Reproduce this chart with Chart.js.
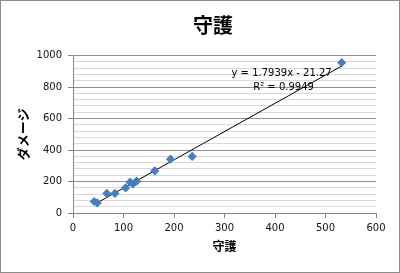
<!DOCTYPE html>
<html>
<head>
<meta charset="utf-8">
<script src="https://cdn.jsdelivr.net/npm/chart.js@4"></script>
<style>
	body { margin: 0; background: #fff; }
	#wrap { width: 398px; height: 271px; border: 1px solid #8c8c8c; }
</style>
</head>
<body>
<div id="wrap"><canvas id="scatter-chart" width="398" height="271"></canvas></div>
<script>
"use strict";

const chartTitle = "守護";
const xTitle = "守護";
const yTitle = "ダメージ";

// 守護 / ダメージ
const defenseValues = [42, 48, 67, 83, 104, 113, 119, 126, 162, 193, 236, 532];
const damageValues = [73, 64, 124, 124, 159, 196, 185, 202, 268, 342, 359, 955];

const slope = 1.7939;
const intercept = -21.27;
const equationText = ["y = 1.7939x - 21.27", "R² = 0.9949"];

const xTicks = [0, 100, 200, 300, 400, 500, 600];
const yTicks = [0, 200, 400, 600, 800, 1000];

function buildPoints() {
	const points = [];
	for (let i = 0; i < defenseValues.length; i++) {
		points.push({ x: defenseValues[i], y: damageValues[i] });
	}
	return points;
}

function buildTrend() {
	const minX = Math.min(...defenseValues);
	const maxX = Math.max(...defenseValues);
	return [
		{ x: minX, y: slope * minX + intercept },
		{ x: maxX, y: slope * maxX + intercept }
	];
}

// chart title sits a little right of the canvas centre, like the original
const titleAndEquation = {
	id: 'titleAndEquation',
	afterDatasetsDraw(chart) {
		const ctx = chart.ctx;
		const xs = chart.scales.x;
		const ys = chart.scales.y;
		ctx.save();
		ctx.fillStyle = '#000';
		ctx.textAlign = 'center';
		ctx.textBaseline = 'middle';
		ctx.font = 'bold 20px "Noto Sans CJK JP"';
		ctx.fillText(chartTitle, 212, 24);

		const cx = xs.getPixelForValue(413);
		const cy = ys.getPixelForValue(886);
		ctx.font = '10px "DejaVu Sans"';
		ctx.fillText(equationText[0], cx, cy);
		ctx.fillText(equationText[1], cx + 2, cy + 14);
		ctx.restore();
	}
};

function displayScatter() {
	const ctx = document.querySelector("#scatter-chart").getContext('2d');
	new Chart(ctx, {
		type: 'scatter',
		data: {
			datasets: [{
				label: 'ダメージ',
				data: buildPoints(),
				pointStyle: 'rectRot',
				pointRadius: 4.6,
				pointHoverRadius: 4.6,
				backgroundColor: '#4a7ebb',
				borderColor: '#4a7ebb',
				borderWidth: 0
			}, {
				type: 'line',
				label: 'trend',
				data: buildTrend(),
				borderColor: '#000',
				borderWidth: 1,
				pointRadius: 0,
				fill: false
			}]
		},
		options: {
			responsive: false,
			animation: false,
			devicePixelRatio: 1,
			layout: { padding: { left: 0, right: 23, top: 54.5, bottom: 0 } },
			plugins: {
				legend: { display: false },
				tooltip: { enabled: false },
				title: { display: false }
			},
			scales: {
				x: {
					type: 'linear',
					min: 0,
					max: 600,
					afterBuildTicks: (scale) => { scale.ticks = xTicks.map(v => ({ value: v })); },
					afterFit: (scale) => { scale.height = 59; },
					ticks: {
						color: '#111',
						font: { family: '"DejaVu Sans"', size: 10 },
						padding: 4,
						maxRotation: 0
					},
					grid: {
						drawOnChartArea: false,
						drawTicks: true,
						tickLength: 5,
						tickColor: '#868686'
					},
					border: { color: '#868686' },
					title: {
						display: true,
						text: xTitle,
						color: '#000',
						font: { family: '"Noto Sans CJK JP"', size: 12, weight: 'bold' },
						padding: { top: 0, bottom: 18 }
					}
				},
				y: {
					min: 0,
					max: 1000,
					ticks: {
						stepSize: 40,
						autoSkip: false,
						color: '#111',
						font: { family: '"DejaVu Sans"', size: 10 },
						padding: 6,
						callback: (value) => (yTicks.includes(value) ? value : '')
					},
					afterFit: (scale) => { scale.width = 72; },
					grid: {
						color: (c) => (c.tick && yTicks.includes(c.tick.value) ? '#909090' : '#d9d9d9'),
						tickColor: (c) => (c.tick && yTicks.includes(c.tick.value) ? '#868686' : 'rgba(0,0,0,0)'),
						tickLength: 5
					},
					border: { color: '#868686' },
					title: {
						display: true,
						text: yTitle,
						color: '#000',
						font: { family: '"Noto Sans CJK JP"', size: 13, weight: 'bold' },
						padding: { top: 14, bottom: 0 }
					}
				}
			}
		},
		plugins: [titleAndEquation]
	});
}

displayScatter();
</script>
</body>
</html>
